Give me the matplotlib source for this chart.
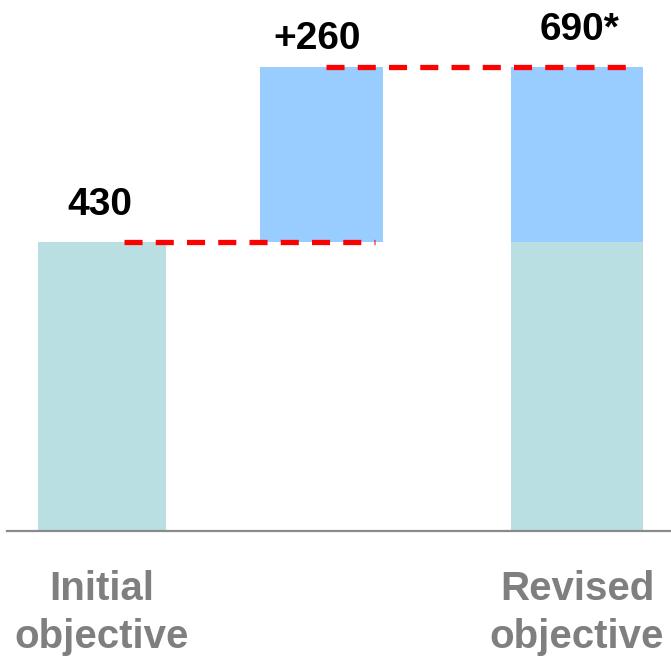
import matplotlib
matplotlib.use("Agg")
import matplotlib.pyplot as plt

# ---- data ----
categories = ["Initial\nobjective", "", "Revised\nobjective"]
initial_value = 430
increase = 260
revised_value = 690
value_labels = ["430", "+260", "690*"]

teal = "#b9dfe2"
blue = "#99ccff"
red = "#ff0000"
gray_text = "#7f7f7f"

plt.rcParams['lines.scale_dashes'] = False
fam = ['Liberation Sans', 'DejaVu Sans']

fig = plt.figure(figsize=(6.71, 6.62), dpi=100)
ax = fig.add_axes([7/671, (662-531)/662, 664/671, 531/662])

pos = [0, 0.925, 2]
w = 0.54
# bar 1
ax.bar(pos[0], initial_value, width=w, color=teal, zorder=2)
# bar 2 (floating)
ax.bar(pos[1], increase, bottom=initial_value, width=w*0.96, color=blue, zorder=2)
# bar 3 (stacked)
ax.bar(pos[2], initial_value, width=w*1.03, color=teal, zorder=2)
ax.bar(pos[2], revised_value - initial_value, bottom=initial_value,
       width=w*1.03, color=blue, zorder=2)

# dashed connectors
ax.plot([pos[0] + 0.093, pos[1] + 0.224], [initial_value, initial_value],
        color=red, lw=3.8, dashes=(13, 9.5), dash_capstyle='butt', zorder=3)
ax.plot([pos[1] + 0.018, pos[2] + 0.21], [revised_value, revised_value],
        color=red, lw=3.8, dashes=(13, 9.5), dash_capstyle='butt', zorder=3)

# value labels
ax.text(pos[0] - 0.01, initial_value + 55, value_labels[0], ha='center', va='center',
        fontsize=28, fontweight='bold', family=fam, color='black')
ax.text(pos[1] - 0.02, revised_value + 42, value_labels[1], ha='center', va='center',
        fontsize=28, fontweight='bold', family=fam, color='black')
ax.text(pos[2] + 0.01, revised_value + 55, value_labels[2], ha='center', va='center',
        fontsize=28, fontweight='bold', family=fam, color='black')

ax.set_xlim(-0.4, 2.396)
ax.set_ylim(0, 790)

for s in ['top', 'right', 'left']:
    ax.spines[s].set_visible(False)
ax.spines['bottom'].set_color('#8a8a8a')
ax.spines['bottom'].set_linewidth(1.6)
ax.set_yticks([])
ax.set_xticks([pos[0], pos[2]])
ax.set_xticklabels([categories[0], categories[2]], fontsize=29, fontweight='bold',
                   family=fam, color=gray_text, linespacing=1.35)
ax.tick_params(axis='x', length=0, pad=28)

fig.savefig("out.png", dpi=100)
